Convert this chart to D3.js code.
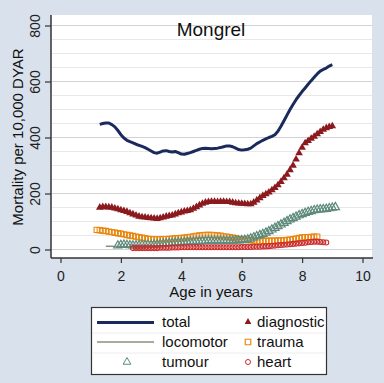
<!DOCTYPE html>
<html>
<head>
<meta charset="utf-8">
<script src="https://cdn.jsdelivr.net/npm/d3@7"></script>
<style>
  html, body { margin: 0; padding: 0; background: #d9e1ec; }
  svg { display: block; font-family: 'Liberation Sans', Arial, sans-serif; }
</style>
</head>
<body>
<div id="chart"></div>
<script>
// age grid (years), one entry every 0.1 year
const ages = [
  1.2, 1.3, 1.4, 1.5, 1.6, 1.7, 1.8, 1.9, 2.0, 2.1,
  2.2, 2.3, 2.4, 2.5, 2.6, 2.7, 2.8, 2.9, 3.0, 3.1,
  3.2, 3.3, 3.4, 3.5, 3.6, 3.7, 3.8, 3.9, 4.0, 4.1,
  4.2, 4.3, 4.4, 4.5, 4.6, 4.7, 4.8, 4.9, 5.0, 5.1,
  5.2, 5.3, 5.4, 5.5, 5.6, 5.7, 5.8, 5.9, 6.0, 6.1,
  6.2, 6.3, 6.4, 6.5, 6.6, 6.7, 6.8, 6.9, 7.0, 7.1,
  7.2, 7.3, 7.4, 7.5, 7.6, 7.7, 7.8, 7.9, 8.0, 8.1,
  8.2, 8.3, 8.4, 8.5, 8.6, 8.7, 8.8, 8.9, 9.0, 9.1,
];

const total = [
  null, 447, 450, 452, 452, 446, 438, 425, 410, 398,
  390, 385, 381, 376, 372, 368, 364, 358, 352, 346,
  344, 348, 352, 353, 350, 348, 350, 346, 341, 340,
  343, 346, 350, 354, 358, 361, 362, 361, 360, 361,
  362, 364, 367, 370, 370, 367, 362, 357, 355, 356,
  358, 362, 370, 378, 384, 390, 395, 400, 404, 410,
  422, 440, 460, 480, 500, 518, 535, 550, 564, 577,
  590, 603, 615, 627, 637, 643, 648, 655, 660, null,
];

const diagnostic = [
  null, 150, 152, 152, 151, 150, 147, 144, 141, 138,
  135, 130, 126, 122, 118, 116, 115, 113, 112, 111,
  110, 112, 115, 118, 120, 122, 126, 130, 133, 136,
  138, 141, 146, 152, 158, 164, 168, 170, 171, 171,
  170, 171, 171, 170, 170, 168, 166, 165, 164, 163,
  162, 162, 168, 176, 184, 192, 198, 204, 212, 220,
  230, 242, 255, 268, 284, 300, 322, 344, 364, 380,
  388, 396, 403, 412, 420, 428, 434, 438, 441, null,
];

const locomotor = [
  null, null, null, 12, 12, 12, 11, 11, 11, 10,
  10, 10, 10, 10, null, null, null, null, null, null,
  null, null, null, null, null, null, null, null, null, null,
  null, null, null, null, null, null, null, null, null, null,
  null, null, null, null, null, null, null, null, null, null,
  null, null, null, null, null, null, null, null, null, null,
  null, null, null, null, null, null, null, null, null, null,
  null, null, null, null, null, null, null, null, null, null,
];

const trauma = [
  70, 69, 67, 66, 64, 62, 60, 58, 56, 54,
  52, 50, 48, 46, 44, 42, 40, 38, 37, 36,
  36, 36, 37, 37, 38, 39, 40, 40, 41, 42,
  44, 45, 47, 48, 50, 51, 52, 52, 52, 51,
  50, 49, 47, 46, 44, 42, 40, 38, 36, 35,
  34, 33, 32, 31, 31, 31, 31, 31, 31, 31,
  32, 32, 33, 34, 35, 37, 39, 41, 43, 44,
  44, 45, 46, 46, null, null, null, null, null, null,
];

const tumour = [
  null, null, null, null, null, null, null, 14, 16, 17,
  16, 15, 14, 14, 14, 15, 15, 16, 16, 17,
  18, 19, 20, 21, 22, 23, 24, 25, 25, 26,
  27, 28, 28, 29, 29, 30, 30, 31, 31, 31,
  31, 31, 31, 31, 31, 31, 32, 32, 33, 34,
  36, 39, 43, 47, 51, 55, 60, 65, 71, 77,
  83, 89, 95, 101, 107, 112, 117, 122, 126, 130,
  134, 137, 140, 142, 143, 144, 145, 147, 149, 151,
];

const heart = [
  null, null, null, null, null, null, null, null, null, null,
  null, null, 5, 5, 5, 5, 5, 5, 5, 5,
  5, 6, 6, 6, 6, 7, 7, 7, 8, 8,
  8, 8, 8, 8, 8, 8, 8, 8, 8, 8,
  8, 8, 8, 8, 8, 8, 8, 8, 9, 9,
  9, 9, 10, 10, 10, 11, 11, 12, 13, 14,
  15, 16, 17, 18, 19, 20, 21, 22, 23, 24,
  26, 27, 28, 28, 27, 26, 25, null, null, null,
];

const xTicks = [0, 2, 4, 6, 8, 10];
const yTicks = [0, 200, 400, 600, 800];
const yGrid = [0, 50, 100, 150, 200, 250, 300, 350, 400, 450, 500, 550, 600, 650, 700, 750, 800];

const width = 384;
const height = 383;

const x = d3.scaleLinear().domain([0, 10]).range([60.5, 362.5]);
const y = d3.scaleLinear().domain([0, 800]).range([249.5, 25.5]);

const svg = d3.select('#chart')
  .append('svg')
  .attr('width', width)
  .attr('height', height);

svg.append('rect')
  .attr('width', width)
  .attr('height', height)
  .attr('fill', '#d9e1ec');

// plot region
svg.append('rect')
  .attr('x', 51)
  .attr('y', 15)
  .attr('width', 321)
  .attr('height', 243)
  .attr('fill', '#ffffff');

svg.append('g')
  .selectAll('line')
  .data(yGrid)
  .enter()
  .append('line')
  .attr('x1', 52)
  .attr('x2', 372)
  .attr('y1', (d) => y(d))
  .attr('y2', (d) => y(d))
  .attr('stroke', (d) => (d % 200 === 0 ? '#d2d2d2' : '#e8e8e8'))
  .attr('stroke-width', 1.2);

// title
svg.append('text')
  .attr('x', 211)
  .attr('y', 36)
  .attr('text-anchor', 'middle')
  .style('font-size', '19px')
  .attr('fill', '#111')
  .text('Mongrel');

// axes
const yAxis = d3.axisLeft(y).tickValues(yTicks).tickSize(6).tickFormat(d3.format('d'));
const yg = svg.append('g')
  .attr('transform', 'translate(51,0)')
  .call(yAxis);
yg.select('.domain').attr('d', 'M0,15V258').attr('stroke', '#333').attr('stroke-width', 1.5);
yg.selectAll('.tick line').attr('stroke', '#333').attr('stroke-width', 1.2);
yg.selectAll('.tick text')
  .attr('x', 0)
  .attr('dy', 0)
  .attr('transform', 'translate(-11,0) rotate(-90)')
  .attr('text-anchor', 'middle')
  .style('font-size', '14px')
  .style('font-family', "'Liberation Sans', Arial, sans-serif")
  .attr('fill', '#222');

const xAxis = d3.axisBottom(x).tickValues(xTicks).tickSize(5);
const xg = svg.append('g')
  .attr('transform', 'translate(0,258)')
  .call(xAxis);
xg.select('.domain').attr('d', 'M51,0H373').attr('stroke', '#333').attr('stroke-width', 1.5);
xg.selectAll('.tick line').attr('stroke', '#333').attr('stroke-width', 1.2);
xg.selectAll('.tick text')
  .attr('y', 23)
  .attr('dy', 0)
  .style('font-size', '14px')
  .style('font-family', "'Liberation Sans', Arial, sans-serif")
  .attr('fill', '#222');

svg.append('text')
  .attr('x', 211)
  .attr('y', 297)
  .attr('text-anchor', 'middle')
  .style('font-size', '15px')
  .attr('fill', '#111')
  .text('Age in years');

svg.append('text')
  .attr('transform', 'translate(23,137) rotate(-90)')
  .attr('text-anchor', 'middle')
  .style('font-size', '15px')
  .attr('fill', '#111')
  .text('Mortality per 10,000 DYAR');

// series
const rows = (vals) => ages.map((a, i) => ({ age: a, v: vals[i] })).filter((d) => d.v !== null);

const line = d3.line()
  .x((d) => x(d.age))
  .y((d) => y(d.v));

const plot = svg.append('g');

plot.append('path')
  .datum(rows(total))
  .attr('d', line)
  .attr('fill', 'none')
  .attr('stroke', '#1b2a5c')
  .attr('stroke-width', 3)
  .attr('stroke-linejoin', 'round');

const tri = d3.symbol().type(d3.symbolTriangle);
const sq = d3.symbol().type(d3.symbolSquare);

plot.append('g')
  .selectAll('path')
  .data(rows(diagnostic))
  .enter()
  .append('path')
  .attr('transform', (d) => `translate(${x(d.age)},${y(d.v)})`)
  .attr('d', tri.size(25)())
  .attr('fill', '#8b1a1f');

plot.append('path')
  .datum(rows(locomotor))
  .attr('d', line)
  .attr('fill', 'none')
  .attr('stroke', '#8f8f7c')
  .attr('stroke-width', 1.5);

plot.append('g')
  .selectAll('path')
  .data(rows(trauma))
  .enter()
  .append('path')
  .attr('transform', (d) => `translate(${x(d.age)},${y(d.v)})`)
  .attr('d', sq.size(28)())
  .attr('fill', 'none')
  .attr('stroke', '#e8870e')
  .attr('stroke-width', 1.1);

plot.append('g')
  .selectAll('path')
  .data(rows(tumour))
  .enter()
  .append('path')
  .attr('transform', (d) => `translate(${x(d.age)},${y(d.v)})`)
  .attr('d', tri.size(30)())
  .attr('fill', 'none')
  .attr('stroke', '#5e8a7b')
  .attr('stroke-width', 1.2);

plot.append('g')
  .selectAll('circle')
  .data(rows(heart))
  .enter()
  .append('circle')
  .attr('cx', (d) => x(d.age))
  .attr('cy', (d) => y(d.v))
  .attr('r', 2.5)
  .attr('fill', 'none')
  .attr('stroke', '#cc2b2b')
  .attr('stroke-width', 1.1);

// legend
const legend = svg.append('g');

legend.append('rect')
  .attr('x', 91.5)
  .attr('y', 307.5)
  .attr('width', 235)
  .attr('height', 67)
  .attr('fill', '#ffffff')
  .attr('stroke', '#333')
  .attr('stroke-width', 1.2);

[333, 353].forEach((ly) => {
  legend.append('line')
    .attr('x1', 93)
    .attr('x2', 325)
    .attr('y1', ly)
    .attr('y2', ly)
    .attr('stroke', '#ececec');
});

legend.append('line')
  .attr('x1', 97).attr('x2', 154)
  .attr('y1', 322.5).attr('y2', 322.5)
  .attr('stroke', '#1b2a5c')
  .attr('stroke-width', 3);
legend.append('line')
  .attr('x1', 97).attr('x2', 154)
  .attr('y1', 342).attr('y2', 342)
  .attr('stroke', '#8f8f7c')
  .attr('stroke-width', 1.5);
legend.append('path')
  .attr('transform', 'translate(127,362)')
  .attr('d', tri.size(26)())
  .attr('fill', 'none')
  .attr('stroke', '#5e8a7b');
legend.append('path')
  .attr('transform', 'translate(248,322)')
  .attr('d', tri.size(20)())
  .attr('fill', '#8b1a1f');
legend.append('path')
  .attr('transform', 'translate(248,342)')
  .attr('d', sq.size(30)())
  .attr('fill', 'none')
  .attr('stroke', '#e8870e')
  .attr('stroke-width', 1.2);
legend.append('circle')
  .attr('cx', 248)
  .attr('cy', 362)
  .attr('r', 2.5)
  .attr('fill', 'none')
  .attr('stroke', '#cc2b2b')
  .attr('stroke-width', 1);

const labels = [
  ['total', 162, 327], ['diagnostic', 257, 327],
  ['locomotor', 162, 347], ['trauma', 257, 347],
  ['tumour', 162, 367], ['heart', 257, 367],
];
legend.selectAll('text.lab')
  .data(labels)
  .enter()
  .append('text')
  .attr('class', 'lab')
  .attr('x', (d) => d[1])
  .attr('y', (d) => d[2])
  .style('font-size', '15px')
  .attr('fill', '#111')
  .text((d) => d[0]);
</script>
</body>
</html>
